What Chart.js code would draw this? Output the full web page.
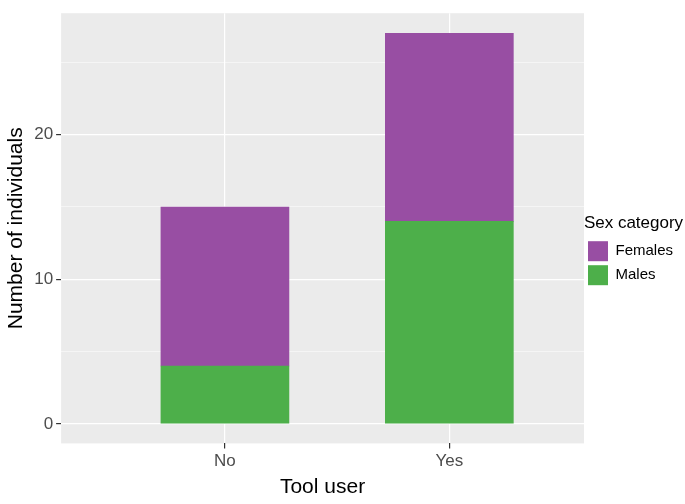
<!DOCTYPE html>
<html>
<head>
<meta charset="utf-8">
<script src="https://cdn.jsdelivr.net/npm/chart.js@4"></script>
<style>
  html, body { margin: 0; padding: 0; background: #fff; }
  #wrap { width: 685px; height: 504px; }
</style>
</head>
<body>
<div id="wrap"><canvas id="c"></canvas></div>
<script>
const categories = ['No', 'Yes'];
const males = [4, 14];
const females = [11, 13];

const panelBg = {
  id: 'panelBg',
  beforeDraw(chart) {
    const a = chart.chartArea, ctx = chart.ctx;
    ctx.save();
    ctx.fillStyle = '#EBEBEB';
    ctx.fillRect(a.left, a.top, a.right - a.left, a.bottom - a.top);
    ctx.restore();
  }
};

const toPoints = arr => arr.map((v, i) => ({x: i + 1, y: v}));

new Chart(document.getElementById('c'), {
  type: 'bar',
  data: {
    datasets: [
      {label: 'Males', data: toPoints(males), backgroundColor: '#4DAF4A', barThickness: 128},
      {label: 'Females', data: toPoints(females), backgroundColor: '#984EA3', barThickness: 128}
    ]
  },
  plugins: [panelBg],
  options: {
    responsive: true,
    maintainAspectRatio: false,
    animation: false,
    layout: {padding: {top: 0, right: 2, bottom: 0, left: 0}},
    plugins: {
      tooltip: {enabled: false},
      legend: {
        position: 'right',
        title: {display: true, text: 'Sex category', color: '#000', font: {family: 'Liberation Sans', size: 17}, padding: {top: 0, bottom: 2}},
        labels: {
          color: '#000', font: {family: 'Liberation Sans', size: 15},
          boxWidth: 20, boxHeight: 20, padding: 4,
          sort: (a, b) => b.datasetIndex - a.datasetIndex
        }
      }
    },
    scales: {
      x: {
        type: 'linear', stacked: true, min: 0.27, max: 2.6, offset: false,
        afterBuildTicks: ax => { ax.ticks = [{value: 1}, {value: 2}]; },
        ticks: {color: '#4D4D4D', font: {family: 'Liberation Sans', size: 17}, callback: v => categories[v - 1]},
        grid: {offset: false, color: '#fff', lineWidth: 1.2, tickColor: '#333', tickLength: 5},
        border: {display: false},
        title: {display: true, text: 'Tool user', color: '#000', font: {family: 'Liberation Sans', size: 21}, padding: {top: 0}}
      },
      y: {
        stacked: true, min: -1.35, max: 28.4,
        afterBuildTicks: ax => { ax.ticks = [0, 5, 10, 15, 20, 25].map(v => ({value: v})); },
        ticks: {color: '#4D4D4D', font: {family: 'Liberation Sans', size: 17}, callback: v => v % 10 === 0 ? v : ''},
        grid: {color: '#fff', lineWidth: c => (c.tick && c.tick.value % 10 === 0) ? 1.2 : 0.5, tickColor: c => (c.tick && c.tick.value % 10 === 0) ? '#333' : 'rgba(0,0,0,0)', tickLength: 5},
        border: {display: false},
        title: {display: true, text: 'Number of individuals', color: '#000', font: {family: 'Liberation Sans', size: 21}, padding: {bottom: 2}}
      }
    }
  }
});
</script>
</body>
</html>
